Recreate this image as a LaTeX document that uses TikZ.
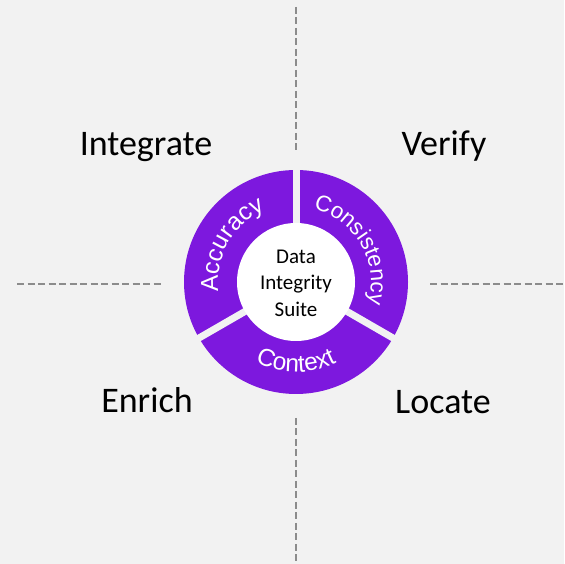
\documentclass[tikz,border=0pt]{standalone}
\usepackage{fontspec}
\setmainfont{Carlito}
\newfontfamily\ringfont{Liberation Sans}
\usetikzlibrary{decorations.text,calc}
\definecolor{bgcol}{HTML}{F2F2F2}
\definecolor{ringpurple}{RGB}{125,24,222}
\definecolor{dashgray}{RGB}{140,140,140}
\tikzset{
  quadlabel/.style={anchor=base, font=\fontsize{36}{43}\selectfont, text=black, inner sep=0pt},
  divider/.style={draw=dashgray, line width=2.2pt, dash pattern=on 7pt off 3.5pt},
  gapline/.style={draw=bgcol, line width=7pt},
  ringtext/.style 2 args={decorate, decoration={text along path, text={|\ringfont\fontsize{#2}{#2}\selectfont|#1}, text align=center, text color=white}}
}
\begin{document}
\begin{tikzpicture}[x=1pt,y=1pt]
\useasboundingbox (0,0) rectangle (564,564);
\fill[bgcol] (0,0) rectangle (564,564);
\coordinate (c) at (296,282);
% dashed dividers
\coordinate (l1) at (17,280); \coordinate (l2) at (162,280);
\coordinate (r1) at (430,280); \coordinate (r2) at (564,280);
\coordinate (t1) at (296,557); \coordinate (t2) at (296,414);
\coordinate (b1) at (296,146); \coordinate (b2) at (296,0);
\draw[divider] (l1) -- (l2);
\draw[divider] (r1) -- (r2);
\draw[divider] (t1) -- (t2);
\draw[divider] (b1) -- (b2);
% ring
\fill[ringpurple] (c) circle[radius=112];
\draw[gapline] (c) -- ++(90:114);
\draw[gapline] (c) -- ++(210:114);
\draw[gapline] (c) -- ++(330:114);
\fill[white] (c) circle[radius=59];
% ring texts
\path[ringtext={Accuracy}{24.5}] ($(c)+(210:78)$) arc[start angle=210, end angle=90, radius=78];
\path[ringtext={Consistency}{22.5}] ($(c)+(90:75)$) arc[start angle=90, end angle=-30, radius=75];
\path[ringtext={Context}{24.5}] ($(c)+(210:90)$) arc[start angle=210, end angle=330, radius=90];
% centre text
\node[align=center, font=\fontsize{21}{26.5}\selectfont, inner sep=0pt] (suite) at (296,281) {Data\\Integrity\\Suite};
% quadrant labels
\node[quadlabel] (integrate) at (146,408) {Integrate};
\node[quadlabel] (verify) at (444,408) {Verify};
\node[quadlabel] (enrich) at (147,151) {Enrich};
\node[quadlabel] (locate) at (443,150) {Locate};
\end{tikzpicture}
\end{document}
